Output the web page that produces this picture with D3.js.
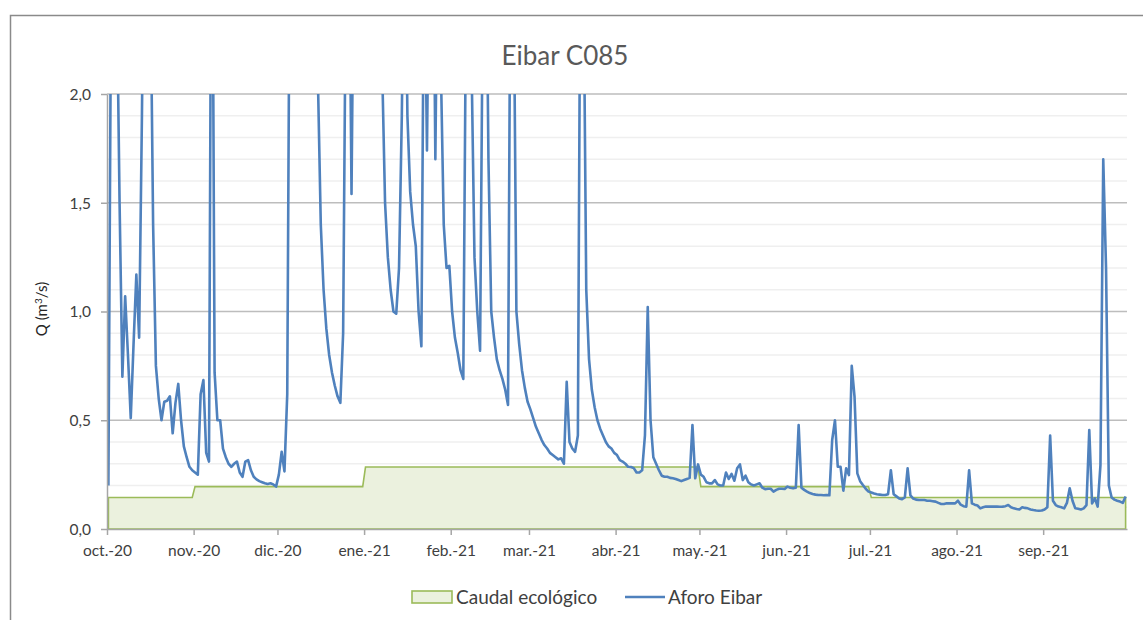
<!DOCTYPE html>
<html>
<head>
<meta charset="utf-8">
<script src="https://cdn.jsdelivr.net/npm/d3@7"></script>
<style>
  body { margin: 0; background: #fff; }
  svg { display: block; }
  text { font-family: Lato, 'Open Sans', sans-serif; }
</style>
</head>
<body>
<div id="chart"></div>
<script>
// month starts and their axis labels
const meses = ['2020-10-01', '2020-11-01', '2020-12-01', '2021-01-01', '2021-02-01', '2021-03-01',
  '2021-04-01', '2021-05-01', '2021-06-01', '2021-07-01', '2021-08-01', '2021-09-01']
const etiquetasMes = ['oct.-20', 'nov.-20', 'dic.-20', 'ene.-21', 'feb.-21', 'mar.-21',
  'abr.-21', 'may.-21', 'jun.-21', 'jul.-21', 'ago.-21', 'sep.-21']

// Aforo Eibar, daily values (m3/s), one array per month
const aforoOct = [0.20, 2.6, 3.2, 2.5, 1.5, 0.70, 1.07, 0.80, 0.51, 0.85, 1.17, 0.88, 1.9, 3.2, 3.5, 2.6,
  1.4, 0.75, 0.60, 0.50, 0.585, 0.59, 0.61, 0.44, 0.58, 0.667, 0.50, 0.38, 0.33, 0.286, 0.27]
const aforoNov = [0.26, 0.25, 0.62, 0.685, 0.35, 0.31, 3.5, 0.72, 0.50, 0.50, 0.37, 0.33, 0.30, 0.286, 0.30,
  0.31, 0.26, 0.24, 0.31, 0.317, 0.27, 0.24, 0.228, 0.22, 0.215, 0.21, 0.207, 0.21, 0.205, 0.195]
const aforoDic = [0.25, 0.355, 0.265, 0.62, 3.0, 4.0, 3.5, 3.0, 3.2, 3.8, 3.0, 2.7, 2.5, 2.3, 2.05, 1.4,
  1.1, 0.92, 0.80, 0.72, 0.66, 0.61, 0.58, 0.90, 2.6, 3.0, 1.54, 3.0, 3.5, 4.0, 3.5]
const aforoEne = [3.0, 2.8, 3.2, 3.0, 2.6, 2.4, 2.1, 1.5, 1.25, 1.1, 1.0, 0.99, 1.2, 1.9, 3.0, 1.9,
  1.55, 1.4, 1.3, 1.0, 0.84, 2.8, 1.74, 3.0, 3.2, 1.70, 3.0, 2.1, 1.4, 1.2, 1.21]
const aforoFeb = [1.0, 0.88, 0.81, 0.73, 0.69, 2.5, 3.5, 2.1, 1.25, 1.0, 0.82, 2.5, 3.0, 1.7, 1.0, 0.88,
  0.78, 0.73, 0.69, 0.64, 0.57, 3.0, 2.6, 1.0, 0.85, 0.73, 0.65, 0.585]
const aforoMar = [0.55, 0.51, 0.47, 0.44, 0.41, 0.386, 0.37, 0.35, 0.34, 0.33, 0.32, 0.325, 0.30, 0.677, 0.40,
  0.37, 0.355, 0.43, 3.0, 2.6, 1.1, 0.78, 0.64, 0.56, 0.50, 0.46, 0.43, 0.40, 0.38, 0.37, 0.35]
const aforoAbr = [0.34, 0.317, 0.31, 0.30, 0.286, 0.285, 0.28, 0.26, 0.26, 0.27, 0.43, 1.02, 0.50, 0.33, 0.30,
  0.27, 0.245, 0.24, 0.24, 0.235, 0.233, 0.23, 0.225, 0.22, 0.225, 0.23, 0.235, 0.478, 0.233, 0.297]
const aforoMay = [0.25, 0.24, 0.215, 0.21, 0.21, 0.225, 0.205, 0.20, 0.20, 0.26, 0.23, 0.253, 0.222, 0.279, 0.297,
  0.225, 0.245, 0.215, 0.205, 0.20, 0.205, 0.21, 0.19, 0.183, 0.185, 0.185, 0.172, 0.18, 0.185, 0.185, 0.184]
const aforoJun = [0.195, 0.19, 0.187, 0.19, 0.478, 0.19, 0.18, 0.172, 0.165, 0.161, 0.158, 0.156, 0.156, 0.155, 0.156,
  0.155, 0.409, 0.50, 0.286, 0.286, 0.176, 0.279, 0.248, 0.75, 0.608, 0.256, 0.22, 0.202, 0.185, 0.172]
const aforoJul = [0.168, 0.163, 0.16, 0.158, 0.156, 0.156, 0.16, 0.27, 0.16, 0.15, 0.14, 0.137, 0.145, 0.279, 0.155,
  0.14, 0.135, 0.133, 0.133, 0.133, 0.13, 0.13, 0.128, 0.126, 0.12, 0.115, 0.115, 0.118, 0.118, 0.118, 0.118]
const aforoAgo = [0.13, 0.112, 0.105, 0.103, 0.27, 0.118, 0.112, 0.108, 0.095, 0.10, 0.103, 0.103, 0.103, 0.103, 0.103,
  0.102, 0.103, 0.105, 0.11, 0.10, 0.095, 0.092, 0.09, 0.10, 0.097, 0.095, 0.09, 0.087, 0.085, 0.084, 0.085]
const aforoSep = [0.09, 0.10, 0.43, 0.13, 0.11, 0.103, 0.10, 0.095, 0.12, 0.187, 0.13, 0.095, 0.093, 0.09, 0.095,
  0.11, 0.455, 0.118, 0.141, 0.103, 0.294, 1.70, 1.2, 0.20, 0.145, 0.135, 0.13, 0.126, 0.12, 0.149]
const aforoMeses = [aforoOct, aforoNov, aforoDic, aforoEne, aforoFeb, aforoMar,
  aforoAbr, aforoMay, aforoJun, aforoJul, aforoAgo, aforoSep]

// Caudal ecologico, step values
const ecoFechas = ['2020-10-01', '2020-10-31', '2020-11-01', '2020-12-31', '2021-01-01',
  '2021-04-30', '2021-05-01', '2021-06-30', '2021-07-01', '2021-09-30']
const ecoValores = [0.145, 0.145, 0.195, 0.195, 0.285, 0.285, 0.195, 0.195, 0.145, 0.145]

const yTicks = [0, 0.5, 1, 1.5, 2]

const parseDate = d3.timeParse('%Y-%m-%d')
const mid = (d) => d3.timeHour.offset(d, 12) // Excel puts daily points mid-day

const aforo = []
meses.forEach((m, k) => {
  aforoMeses[k].forEach((v, j) => {
    aforo.push({ fecha: d3.timeDay.offset(parseDate(m), j), valor: v })
  })
})
const eco = ecoFechas.map((f, i) => ({ fecha: parseDate(f), valor: ecoValores[i] }))

const width = 1143, height = 620
const plot = { left: 107, right: 1127, top: 94, bottom: 529 }

const svg = d3.select('#chart').append('svg')
  .attr('width', width)
  .attr('height', height)

// chart border
svg.append('rect')
  .attr('x', 10.5).attr('y', 15.5)
  .attr('width', 1200).attr('height', 700)
  .attr('fill', 'none')
  .attr('stroke', '#8a8a8a')
  .attr('stroke-width', 1.5)

svg.append('text')
  .attr('x', 565).attr('y', 65)
  .attr('text-anchor', 'middle')
  .attr('font-size', 26)
  .attr('fill', '#595959')
  .text('Eibar C085')

const x = d3.scaleTime()
  .domain([parseDate('2020-10-01'), parseDate('2021-10-01')])
  .range([plot.left, plot.right])
const y = d3.scaleLinear().domain([0, 2]).range([plot.bottom, plot.top])

// minor gridlines every 0.1
svg.append('g')
  .selectAll('line')
  .data(y.ticks(20).filter((t) => Math.round(t * 10) % 5 !== 0))
  .enter()
  .append('line')
  .attr('x1', plot.left).attr('x2', plot.right)
  .attr('y1', (d) => y(d)).attr('y2', (d) => y(d))
  .attr('stroke', '#efefef')
  .attr('stroke-width', 1.3)

// major gridlines
svg.append('g')
  .selectAll('line')
  .data(yTicks.filter((t) => t > 0))
  .enter()
  .append('line')
  .attr('x1', plot.left).attr('x2', plot.right)
  .attr('y1', (d) => y(d)).attr('y2', (d) => y(d))
  .attr('stroke', '#bdbdbd')
  .attr('stroke-width', 1.5)

// caudal ecologico area
const area = d3.area()
  .x((d) => x(mid(d.fecha)))
  .y0(y(0))
  .y1((d) => y(d.valor))
svg.append('path')
  .datum(eco)
  .attr('d', area)
  .attr('fill', '#ebf1de')
  .attr('stroke', '#9bbb59')
  .attr('stroke-width', 1.6)

// aforo line, clipped at 2,0
svg.append('clipPath').attr('id', 'clip')
  .append('rect')
  .attr('x', plot.left).attr('y', plot.top)
  .attr('width', plot.right - plot.left).attr('height', plot.bottom - plot.top)

const line = d3.line()
  .x((d) => x(mid(d.fecha)))
  .y((d) => y(d.valor))
svg.append('path')
  .datum(aforo)
  .attr('clip-path', 'url(#clip)')
  .attr('d', line)
  .attr('fill', 'none')
  .attr('stroke', '#4f81bd')
  .attr('stroke-width', 2.6)
  .attr('stroke-linejoin', 'round')

// axes
const es = d3.formatLocale({ decimal: ',', thousands: '.', grouping: [3], currency: ['', ' €'] })
const yAxis = svg.append('g')
  .attr('transform', `translate(${plot.left},0)`)
  .call(d3.axisLeft(y).tickValues(yTicks).tickFormat(es.format('.1f')).tickSize(6).tickSizeOuter(0).tickPadding(10))

const xAxis = svg.append('g')
  .attr('transform', `translate(0,${plot.bottom})`)
  .call(d3.axisBottom(x)
    .tickValues(meses.map(parseDate))
    .tickFormat((d, i) => etiquetasMes[i])
    .tickSize(6).tickSizeOuter(0).tickPadding(10))

;[yAxis, xAxis].forEach((g) => {
  g.select('.domain').attr('stroke', '#a6a6a6').attr('stroke-width', 1.5)
  g.selectAll('.tick line').attr('stroke', '#a6a6a6').attr('stroke-width', 1.5)
  g.selectAll('.tick text')
    .attr('fill', '#404040')
    .style('font-family', 'Lato, sans-serif')
    .style('font-size', '15.5px')
})
yAxis.selectAll('.tick text').attr('dy', '0.35em')

// y axis title
const yTitle = svg.append('text')
  .attr('transform', 'translate(47,309) rotate(-90)')
  .attr('text-anchor', 'middle')
  .attr('font-size', 15)
  .attr('fill', '#262626')
yTitle.append('tspan').text('Q (m')
yTitle.append('tspan').attr('dy', -5).attr('font-size', 10).text('3')
yTitle.append('tspan').attr('dy', 5).text('/s)')

// legend
const legend = svg.append('g').attr('font-size', 19).attr('fill', '#404040')
legend.append('rect')
  .attr('x', 412).attr('y', 591)
  .attr('width', 40).attr('height', 12)
  .attr('fill', '#ebf1de')
  .attr('stroke', '#9bbb59')
  .attr('stroke-width', 1.6)
legend.append('text').attr('x', 456).attr('y', 604).text('Caudal ecológico')
legend.append('line')
  .attr('x1', 625).attr('x2', 665)
  .attr('y1', 597).attr('y2', 597)
  .attr('stroke', '#4f81bd')
  .attr('stroke-width', 2.6)
legend.append('text').attr('x', 668).attr('y', 604).text('Aforo Eibar')
</script>
</body>
</html>
